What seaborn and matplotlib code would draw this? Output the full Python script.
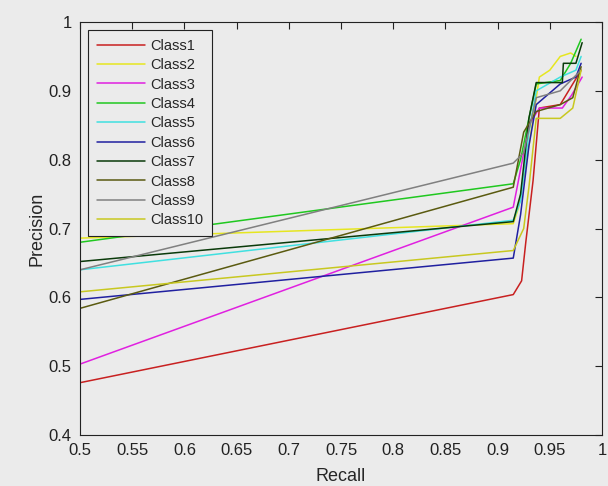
import matplotlib
matplotlib.use("Agg")
import matplotlib.pyplot as plt
import seaborn as sns
import pandas as pd

classes = ["Class1", "Class2", "Class3", "Class4", "Class5",
           "Class6", "Class7", "Class8", "Class9", "Class10"]

recall_c1 = [0.5, 0.915, 0.923, 0.927, 0.934, 0.940, 0.960, 0.980]
prec_c1 = [0.476, 0.604, 0.624, 0.680, 0.770, 0.875, 0.880, 0.930]

recall_c2 = [0.5, 0.915, 0.920, 0.928, 0.940, 0.950, 0.960, 0.970, 0.975]
prec_c2 = [0.686, 0.707, 0.730, 0.800, 0.920, 0.930, 0.950, 0.955, 0.950]

recall_c3 = [0.5, 0.915, 0.920, 0.930, 0.940, 0.962, 0.971, 0.981]
prec_c3 = [0.503, 0.731, 0.770, 0.850, 0.875, 0.875, 0.894, 0.920]

recall_c4 = [0.5, 0.915, 0.922, 0.930, 0.937, 0.960, 0.970, 0.980]
prec_c4 = [0.680, 0.765, 0.800, 0.860, 0.910, 0.915, 0.940, 0.975]

recall_c5 = [0.5, 0.915, 0.922, 0.930, 0.937, 0.960, 0.975, 0.980]
prec_c5 = [0.640, 0.712, 0.740, 0.840, 0.900, 0.920, 0.930, 0.950]

recall_c6 = [0.5, 0.915, 0.922, 0.930, 0.937, 0.960, 0.975, 0.980]
prec_c6 = [0.597, 0.657, 0.720, 0.820, 0.880, 0.910, 0.920, 0.940]

recall_c7 = [0.5, 0.915, 0.922, 0.930, 0.937, 0.962, 0.963, 0.975, 0.981]
prec_c7 = [0.652, 0.710, 0.750, 0.860, 0.912, 0.912, 0.940, 0.940, 0.970]

recall_c8 = [0.5, 0.915, 0.925, 0.937, 0.960, 0.972, 0.980]
prec_c8 = [0.584, 0.760, 0.840, 0.870, 0.880, 0.890, 0.935]

recall_c9 = [0.5, 0.915, 0.925, 0.937, 0.960, 0.980]
prec_c9 = [0.640, 0.795, 0.810, 0.890, 0.900, 0.930]

recall_c10 = [0.5, 0.915, 0.925, 0.930, 0.937, 0.960, 0.972, 0.980]
prec_c10 = [0.608, 0.668, 0.700, 0.760, 0.860, 0.860, 0.875, 0.930]

recalls = [recall_c1, recall_c2, recall_c3, recall_c4, recall_c5,
           recall_c6, recall_c7, recall_c8, recall_c9, recall_c10]
precs = [prec_c1, prec_c2, prec_c3, prec_c4, prec_c5,
         prec_c6, prec_c7, prec_c8, prec_c9, prec_c10]

x_ticks = [0.5, 0.55, 0.6, 0.65, 0.7, 0.75, 0.8, 0.85, 0.9, 0.95, 1.0]
x_tick_labels = ["0.5", "0.55", "0.6", "0.65", "0.7", "0.75", "0.8", "0.85", "0.9", "0.95", "1"]
y_ticks = [0.4, 0.5, 0.6, 0.7, 0.8, 0.9, 1.0]
y_tick_labels = ["0.4", "0.5", "0.6", "0.7", "0.8", "0.9", "1"]

colors = ["#c82020", "#e6e620", "#e020e0", "#20c820", "#40e0e0",
          "#2020a0", "#0a3a0a", "#5a5a10", "#808080", "#c8c820"]

rows = []
for name, rs, ps in zip(classes, recalls, precs):
    for i, (r, p) in enumerate(zip(rs, ps)):
        rows.append({"Class": name, "Recall": r, "Precision": p, "order": i})
df = pd.DataFrame(rows)

sns.set_style("white")
plt.rcParams["font.family"] = ["Liberation Sans", "DejaVu Sans"]

bg = "#ebebeb"
fig = plt.figure(figsize=(6.08, 4.86), dpi=100, facecolor=bg)
ax = fig.add_axes([80 / 608, 1 - 435 / 486, 522 / 608, 413 / 486])
ax.set_facecolor(bg)

sns.lineplot(data=df, x="Recall", y="Precision", hue="Class", hue_order=classes,
             palette=dict(zip(classes, colors)), sort=False, estimator=None,
             linewidth=1.1, ax=ax)

ax.set_xlim(0.5, 1.0)
ax.set_ylim(0.4, 1.0)
ax.set_xticks(x_ticks)
ax.set_xticklabels(x_tick_labels)
ax.set_yticks(y_ticks)
ax.set_yticklabels(y_tick_labels)
ax.tick_params(direction="in", length=5, width=0.8, top=True, right=True,
               labelsize=12, colors="#222222", pad=6)
for s in ax.spines.values():
    s.set_visible(True)
    s.set_color("#222222")
    s.set_linewidth(0.8)

ax.set_xlabel("Recall", fontsize=13, labelpad=7)
ax.set_ylabel("Precision", fontsize=13, labelpad=2)

leg = ax.legend(loc="upper left", bbox_to_anchor=(0.0153, 0.9806), borderaxespad=0,
                fontsize=10.5, handlelength=3.3, labelspacing=0.37, borderpad=0.6,
                handletextpad=0.35, frameon=True, fancybox=False)
leg.get_frame().set_edgecolor("#222222")
leg.get_frame().set_facecolor(bg)
leg.get_frame().set_linewidth(0.8)
leg.get_frame().set_alpha(1)

fig.savefig("out.png", dpi=100, facecolor=bg)
